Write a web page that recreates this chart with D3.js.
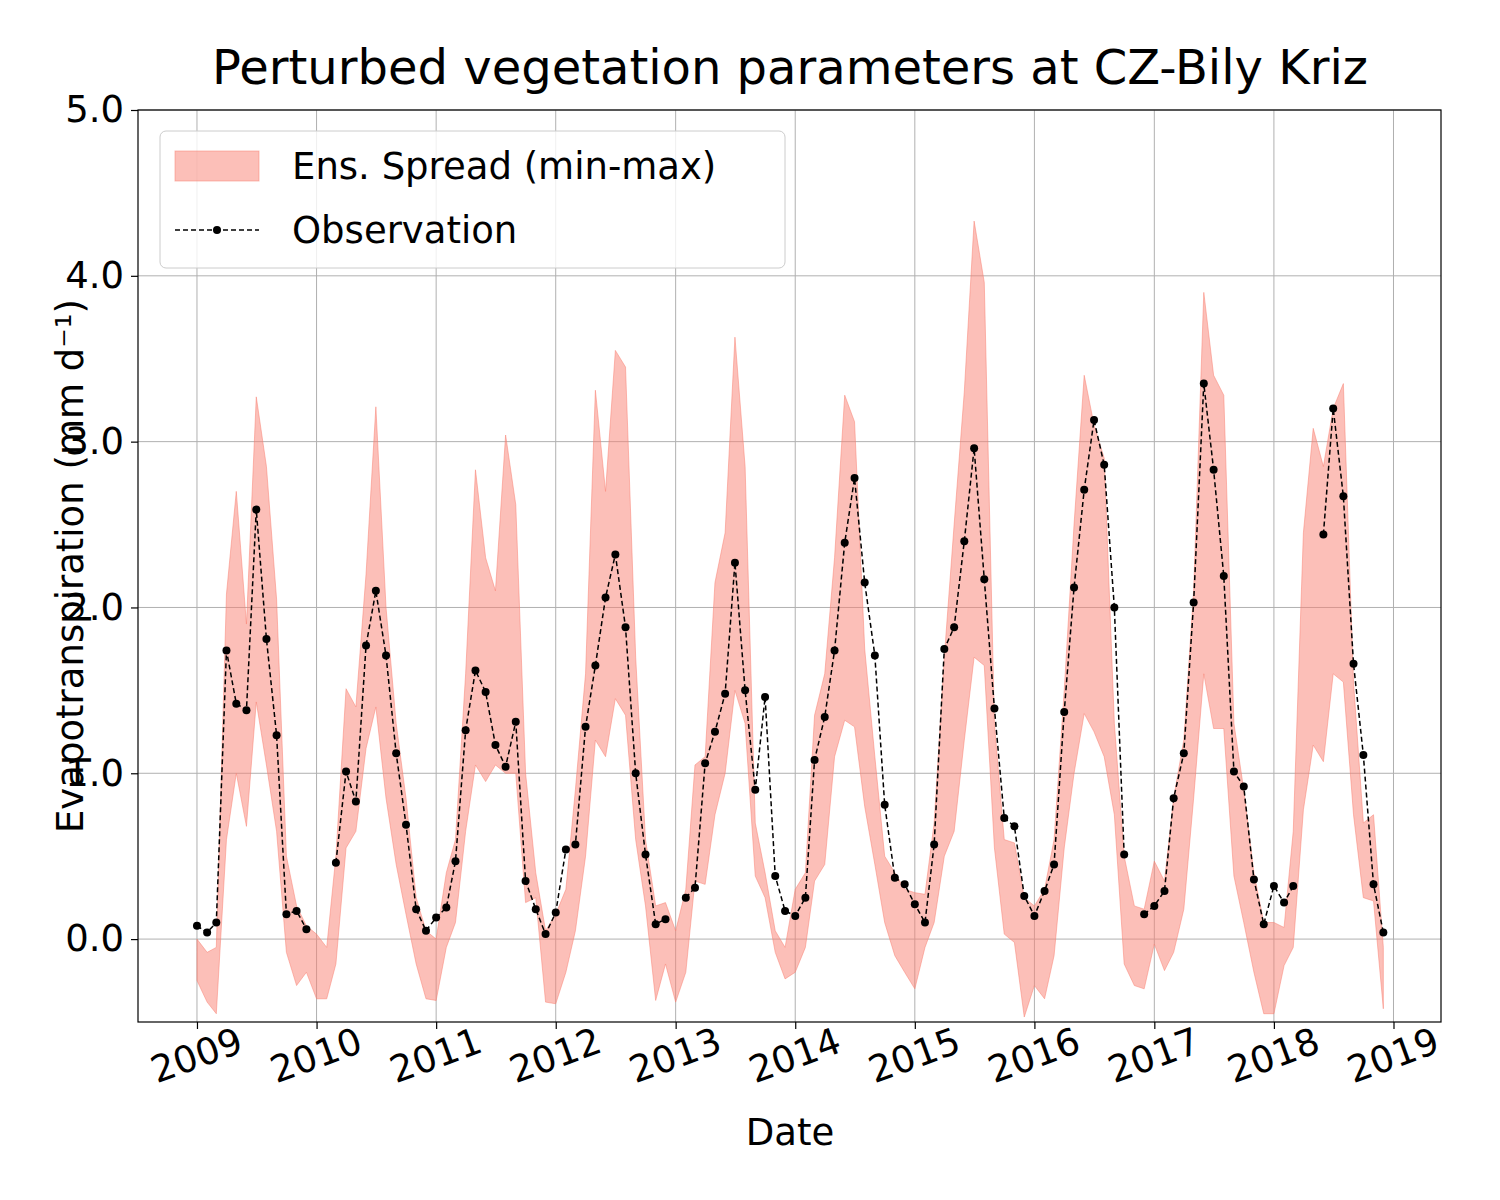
<!DOCTYPE html>
<html>
<head>
<meta charset="utf-8">
<script src="https://cdn.jsdelivr.net/npm/d3@7"></script>
<style>
  body { margin: 0; background: #fff; }
  text { font-family: "DejaVu Sans", sans-serif; }
</style>
</head>
<body>
<svg id="chart" width="1500" height="1200"></svg>
<script>
const years = [2009, 2010, 2011, 2012, 2013, 2014, 2015, 2016, 2017, 2018];
const xTicks = [2009, 2010, 2011, 2012, 2013, 2014, 2015, 2016, 2017, 2018, 2019];
const yTicks = [0, 1, 2, 3, 4, 5];

// monthly observations, null = missing
const obs = [
  0.08, 0.04, 0.10, 1.74, 1.42, 1.38, 2.59, 1.81, 1.23, 0.15, 0.17, 0.06,
  null, null, 0.46, 1.01, 0.83, 1.77, 2.10, 1.71, 1.12, 0.69, 0.18, 0.05,
  0.13, 0.19, 0.47, 1.26, 1.62, 1.49, 1.17, 1.04, 1.31, 0.35, 0.18, 0.03,
  0.16, 0.54, 0.57, 1.28, 1.65, 2.06, 2.32, 1.88, 1.00, 0.51, 0.09, 0.12,
  null, 0.25, 0.31, 1.06, 1.25, 1.48, 2.27, 1.50, 0.90, 1.46, 0.38, 0.17,
  0.14, 0.25, 1.08, 1.34, 1.74, 2.39, 2.78, 2.15, 1.71, 0.81, 0.37, 0.33,
  0.21, 0.10, 0.57, 1.75, 1.88, 2.40, 2.96, 2.17, 1.39, 0.73, 0.68, 0.26,
  0.14, 0.29, 0.45, 1.37, 2.12, 2.71, 3.13, 2.86, 2.00, 0.51, null, 0.15,
  0.20, 0.29, 0.85, 1.12, 2.03, 3.35, 2.83, 2.19, 1.01, 0.92, 0.36, 0.09,
  0.32, 0.22, 0.32, null, null, 2.44, 3.20, 2.67, 1.66, 1.11, 0.33, 0.04
];

const ensMax = [
  0.00, -0.08, -0.05, 2.08, 2.70, 1.90, 3.27, 2.85, 2.05, 0.50, 0.20, 0.08,
  0.03, -0.05, 0.50, 1.51, 1.40, 2.20, 3.21, 2.00, 1.30, 0.85, 0.25, 0.05,
  0.00, 0.40, 0.60, 1.60, 2.83, 2.30, 2.10, 3.04, 2.62, 1.00, 0.40, 0.05,
  0.15, 0.30, 0.90, 1.60, 3.31, 2.70, 3.55, 3.45, 1.70, 0.60, 0.20, 0.22,
  0.05, 0.30, 1.05, 1.10, 2.15, 2.45, 3.63, 2.85, 0.70, 0.40, 0.05, -0.05,
  0.30, 0.40, 1.35, 1.60, 2.30, 3.28, 3.12, 1.75, 1.10, 0.50, 0.40, 0.30,
  0.28, 0.27, 0.70, 1.70, 2.50, 3.30, 4.33, 3.96, 1.30, 0.60, 0.58, 0.25,
  0.20, 0.30, 0.60, 1.50, 2.50, 3.40, 3.10, 2.90, 1.30, 0.50, 0.20, 0.18,
  0.47, 0.35, 0.85, 1.20, 2.10, 3.90, 3.40, 3.28, 1.30, 0.90, 0.40, 0.10,
  0.10, 0.07, 0.65, 2.45, 3.08, 2.85, 3.20, 3.35, 1.55, 0.70, 0.75, -0.05
];

const ensMin = [
  -0.25, -0.38, -0.45, 0.60, 1.00, 0.68, 1.43, 1.05, 0.65, -0.08, -0.28, -0.20,
  -0.36, -0.36, -0.15, 0.55, 0.65, 1.15, 1.40, 0.85, 0.45, 0.15, -0.15, -0.36,
  -0.37, -0.05, 0.10, 0.65, 1.05, 0.95, 1.05, 1.00, 1.00, 0.22, 0.25, -0.38,
  -0.39, -0.20, 0.05, 0.50, 1.20, 1.10, 1.45, 1.35, 0.60, 0.20, -0.37, -0.15,
  -0.38, -0.20, 0.35, 0.33, 0.75, 1.00, 1.50, 1.30, 0.38, 0.25, -0.08, -0.24,
  -0.20, -0.05, 0.35, 0.45, 1.10, 1.32, 1.28, 0.80, 0.45, 0.10, -0.10, -0.20,
  -0.30, -0.05, 0.10, 0.50, 0.65, 1.20, 1.70, 1.65, 0.55, 0.03, -0.02, -0.47,
  -0.28, -0.36, -0.10, 0.55, 1.00, 1.36, 1.25, 1.10, 0.75, -0.15, -0.28, -0.30,
  -0.03, -0.19, -0.08, 0.18, 0.85, 1.60, 1.27, 1.27, 0.38, 0.10, -0.20, -0.45,
  -0.45, -0.16, -0.05, 0.78, 1.17, 1.07, 1.60, 1.55, 0.75, 0.25, 0.23, -0.42
];

const data = obs.map((v, i) => ({
  date: new Date(years[0] + Math.floor(i / 12), i % 12, 1),
  obs: v, lo: ensMin[i], hi: ensMax[i]
}));

const margin = { left: 138, right: 59, top: 110, bottom: 178 };
const W = 1500, H = 1200;
const svg = d3.select('#chart');

const x = d3.scaleTime()
  .domain([new Date(2008, 6, 5), new Date(2019, 4, 26)])
  .range([margin.left, W - margin.right]);
const y = d3.scaleLinear().domain([-0.5, 5]).range([H - margin.bottom, margin.top]);

// grid
svg.append('g').selectAll('line').data(xTicks).join('line')
  .attr('x1', d => x(new Date(d, 0, 1))).attr('x2', d => x(new Date(d, 0, 1)))
  .attr('y1', y(-0.5)).attr('y2', y(5)).attr('stroke', '#b0b0b0').attr('stroke-width', 1);
svg.append('g').selectAll('line').data(yTicks).join('line')
  .attr('x1', margin.left).attr('x2', W - margin.right)
  .attr('y1', d => y(d)).attr('y2', d => y(d)).attr('stroke', '#b0b0b0').attr('stroke-width', 1);

// band
const area = d3.area().x(d => x(d.date)).y0(d => y(d.lo)).y1(d => y(d.hi));
svg.append('path').datum(data).attr('d', area)
  .attr('fill', 'salmon').attr('fill-opacity', 0.5)
  .attr('stroke', 'salmon').attr('stroke-opacity', 0.5).attr('stroke-width', 1);

// observation
const line = d3.line().defined(d => d.obs !== null).x(d => x(d.date)).y(d => y(d.obs));
svg.append('path').datum(data).attr('d', line)
  .attr('fill', 'none').attr('stroke', 'black').attr('stroke-width', 1.5).attr('stroke-dasharray', '5,3');
svg.append('g').selectAll('circle').data(data.filter(d => d.obs !== null)).join('circle')
  .attr('cx', d => x(d.date)).attr('cy', d => y(d.obs)).attr('r', 4).attr('fill', 'black');

// axes
const xAxis = d3.axisBottom(x).tickValues(xTicks.map(d => new Date(d, 0, 1)))
  .tickFormat(d3.timeFormat('%Y')).tickSize(7);
const gx = svg.append('g').attr('transform', `translate(0,${y(-0.5)})`).call(xAxis);
gx.select('.domain').remove();
gx.selectAll('line').attr('stroke-width', 1.2);
gx.selectAll('text').attr('font-size', 37).attr('fill', 'black')
  .attr('text-anchor', 'middle').attr('dy', null)
  .attr('transform', 'translate(0,36) rotate(-20)');

const yAxis = d3.axisLeft(y).tickValues(yTicks).tickSize(7);
const gy = svg.append('g').attr('transform', `translate(${margin.left},0)`).call(yAxis);
gy.select('.domain').remove();
gy.selectAll('line').attr('stroke-width', 1.2);
gy.selectAll('text').attr('font-size', 37).attr('fill', 'black').attr('x', -14);

svg.append('rect').attr('x', margin.left).attr('y', margin.top)
  .attr('width', W - margin.left - margin.right).attr('height', y(-0.5) - margin.top)
  .attr('fill', 'none').attr('stroke', 'black').attr('stroke-width', 1.2);

// labels
svg.append('text').attr('x', 790).attr('y', 84).attr('text-anchor', 'middle')
  .attr('font-size', 48).text('Perturbed vegetation parameters at CZ-Bily Kriz');
svg.append('text').attr('x', 790).attr('y', 1145).attr('text-anchor', 'middle')
  .attr('font-size', 37).text('Date');
svg.append('text').attr('transform', `translate(83,${(margin.top + y(-0.5)) / 2}) rotate(-90)`)
  .attr('text-anchor', 'middle').attr('font-size', 37)
  .text('Evapotranspiration  (mm d\u207B\u00B9)');

// legend
const lg = svg.append('g');
lg.append('rect').attr('x', 160).attr('y', 131).attr('width', 625).attr('height', 137).attr('rx', 6)
  .attr('fill', 'white').attr('fill-opacity', 0.8).attr('stroke', '#cccccc');
lg.append('rect').attr('x', 175).attr('y', 151).attr('width', 84).attr('height', 30)
  .attr('fill', 'salmon').attr('fill-opacity', 0.5).attr('stroke', 'salmon').attr('stroke-opacity', 0.5);
lg.append('line').attr('x1', 175).attr('x2', 259).attr('y1', 230).attr('y2', 230)
  .attr('stroke', 'black').attr('stroke-width', 1.5).attr('stroke-dasharray', '5,3');
lg.append('circle').attr('cx', 217).attr('cy', 230).attr('r', 4).attr('fill', 'black');
lg.append('text').attr('x', 292).attr('y', 179).attr('font-size', 37).text('Ens. Spread (min-max)');
lg.append('text').attr('x', 292).attr('y', 243).attr('font-size', 37).text('Observation');
</script>
</body>
</html>
